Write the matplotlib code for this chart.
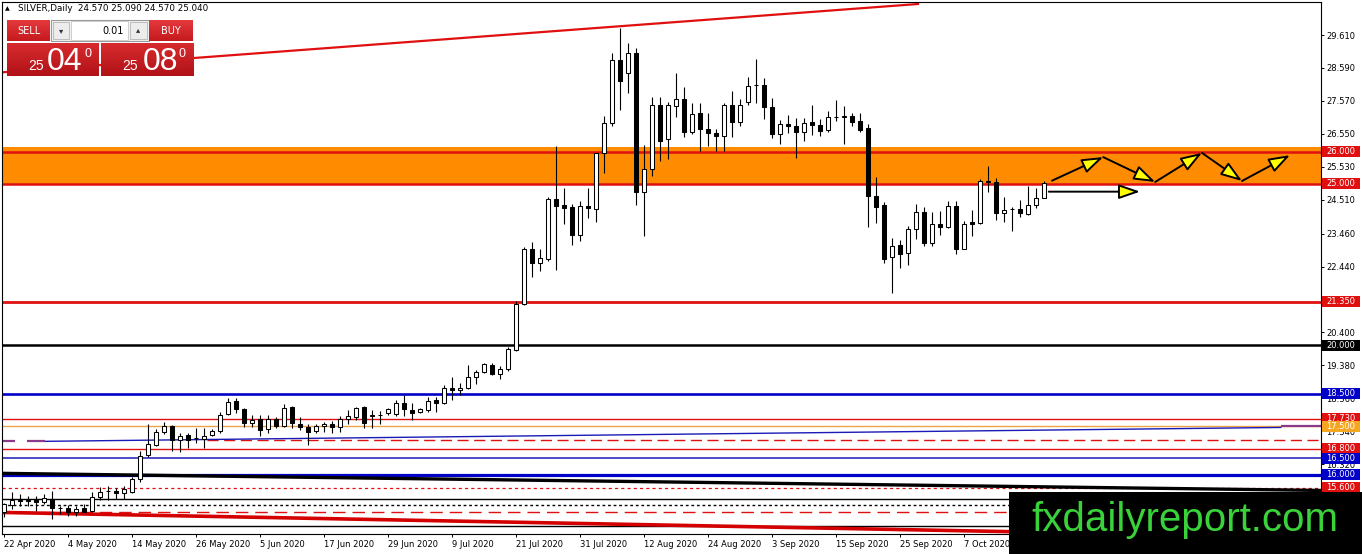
import numpy as np
import matplotlib
matplotlib.use("Agg")
import matplotlib.pyplot as plt
import matplotlib.transforms as mtransforms
from matplotlib.patches import Rectangle
from matplotlib.colors import LinearSegmentedColormap

plt.rcParams['font.family'] = ['DejaVu Sans']

W, H = 1362, 554

# daily bars, first one is 22 Apr 2020 (weekdays only)
opens = [14.85, 15.07, 15.20, 15.19, 15.22, 15.14, 15.26, 14.96, 14.96, 14.84,
         14.96, 14.86, 15.32, 15.48, 15.50, 15.42, 15.45, 15.86, 16.60, 16.93,
         17.33, 17.50, 17.08, 17.22, 17.12, 17.09, 17.23, 17.34, 17.87, 18.28,
         18.04, 17.61, 17.73, 17.40, 17.73, 17.50, 18.09, 17.58, 17.46, 17.36,
         17.49, 17.57, 17.46, 17.71, 17.79, 18.09, 17.80, 17.84, 17.91, 17.88,
         18.22, 18.01, 17.93, 18.01, 18.30, 18.23, 18.69, 18.62, 18.69, 19.03,
         19.17, 19.38, 19.13, 19.26, 19.86, 21.27, 22.97, 22.56, 22.69, 24.54,
         24.35, 24.27, 23.43, 24.32, 24.23, 25.97, 26.88, 28.84, 28.43, 29.04,
         24.74, 25.46, 27.45, 26.38, 27.42, 27.62, 26.62, 27.19, 26.70, 26.57,
         26.47, 27.43, 26.93, 27.53, 28.05, 28.07, 27.38, 26.54, 26.86, 26.80,
         26.60, 26.93, 26.83, 26.67, 27.06, 27.07, 27.11, 26.95, 26.73, 24.64,
         24.36, 22.74, 23.12, 22.87, 23.61, 24.12, 23.17, 23.77, 23.67, 24.33,
         23.00, 23.82, 23.79, 25.05, 25.05, 24.10, 24.22, 24.23, 24.08, 24.34,
         24.57]
highs = [15.12, 15.45, 15.40, 15.33, 15.34, 15.40, 15.50, 15.04, 15.07, 15.04,
         15.09, 15.45, 15.61, 15.65, 15.60, 15.65, 15.92, 16.73, 17.56, 17.40,
         17.63, 17.55, 17.30, 17.30, 17.45, 17.45, 17.40, 17.94, 18.36, 18.36,
         18.05, 17.86, 17.84, 17.84, 17.77, 18.18, 18.12, 17.77, 17.56, 17.58,
         17.64, 17.66, 17.82, 18.00, 18.10, 18.12, 18.00, 17.98, 18.06, 18.30,
         18.45, 18.21, 18.06, 18.39, 18.39, 18.76, 19.02, 18.83, 19.38, 19.25,
         19.46, 19.45, 19.37, 19.94, 21.38, 23.04, 23.20, 23.00, 24.60, 26.16,
         24.88, 24.38, 24.46, 24.87, 25.97, 27.11, 29.04, 29.82, 29.35, 29.20,
         26.21, 27.68, 27.68, 27.55, 28.44, 28.01, 27.50, 27.50, 27.19, 26.70,
         27.50, 27.89, 27.63, 28.32, 28.86, 28.27, 27.65, 26.98, 27.14, 27.03,
         27.03, 27.45, 27.00, 27.27, 27.60, 27.42, 27.21, 27.21, 26.86, 25.21,
         24.43, 23.33, 23.25, 23.71, 24.39, 24.30, 24.12, 24.15, 24.46, 24.46,
         23.84, 24.20, 25.15, 25.54, 25.18, 24.61, 24.30, 24.51, 24.92, 24.87,
         25.09]
lows = [14.68, 14.93, 15.03, 15.03, 14.88, 15.09, 14.62, 14.78, 14.72, 14.72,
        14.84, 14.83, 15.22, 15.22, 15.26, 15.25, 15.42, 15.76, 16.55, 16.88,
        17.27, 16.72, 16.70, 16.83, 16.99, 16.83, 17.18, 17.30, 17.84, 17.91,
        17.46, 17.46, 17.20, 17.28, 17.44, 17.46, 17.43, 17.39, 16.91, 17.28,
        17.31, 17.28, 17.33, 17.56, 17.68, 17.43, 17.43, 17.56, 17.85, 17.82,
        17.81, 17.70, 17.90, 17.93, 17.95, 18.20, 18.31, 18.45, 18.66, 18.79,
        19.14, 19.07, 18.95, 19.21, 19.83, 21.25, 22.13, 22.29, 22.60, 22.32,
        23.75, 23.10, 23.22, 23.93, 23.81, 25.34, 26.78, 27.29, 27.81, 24.36,
        23.38, 25.23, 25.70, 25.77, 27.07, 26.45, 26.55, 26.03, 26.18, 26.03,
        26.03, 26.45, 26.78, 27.45, 27.50, 27.00, 26.42, 26.24, 26.59, 25.80,
        26.34, 26.52, 26.49, 26.62, 26.96, 26.24, 26.80, 26.62, 23.67, 23.79,
        22.55, 21.63, 22.40, 22.50, 23.30, 23.07, 23.07, 23.43, 23.64, 22.84,
        22.97, 23.38, 23.75, 24.74, 23.87, 23.81, 23.53, 23.99, 24.04, 24.26,
        24.57]
closes = [15.08, 15.22, 15.19, 15.21, 15.14, 15.27, 14.96, 14.98, 14.83, 14.93,
          14.85, 15.32, 15.45, 15.50, 15.42, 15.55, 15.86, 16.58, 16.96, 17.32,
          17.50, 17.06, 17.18, 17.06, 17.14, 17.20, 17.35, 17.84, 18.25, 18.04,
          17.61, 17.68, 17.38, 17.73, 17.50, 18.07, 17.61, 17.46, 17.32, 17.50,
          17.58, 17.46, 17.71, 17.82, 18.07, 17.61, 17.84, 17.86, 18.02, 18.22,
          18.02, 17.92, 18.02, 18.28, 18.23, 18.69, 18.61, 18.69, 19.03, 19.17,
          19.41, 19.10, 19.28, 19.88, 21.27, 22.97, 22.56, 22.71, 24.54, 24.33,
          24.25, 23.43, 24.33, 24.25, 25.95, 26.88, 28.84, 28.20, 29.04, 24.74,
          25.46, 27.45, 26.34, 27.45, 27.62, 26.62, 27.16, 26.70, 26.57, 26.47,
          27.43, 26.93, 27.43, 28.04, 28.07, 27.38, 26.54, 26.85, 26.78, 26.60,
          26.88, 26.83, 26.65, 27.07, 27.08, 27.11, 26.93, 26.67, 24.64, 24.30,
          22.69, 23.07, 22.84, 23.61, 24.12, 23.17, 23.77, 23.67, 24.33, 23.00,
          23.77, 23.77, 25.08, 25.08, 24.10, 24.18, 24.23, 24.10, 24.34, 24.56,
          25.04]

date_ticks = [0, 8, 16, 24, 32, 40, 48, 56, 64, 72, 80, 88, 96, 104, 112, 120]
date_labels = ['22 Apr 2020', '4 May 2020', '14 May 2020', '26 May 2020', '5 Jun 2020',
               '17 Jun 2020', '29 Jun 2020', '9 Jul 2020', '21 Jul 2020', '31 Jul 2020',
               '12 Aug 2020', '24 Aug 2020', '3 Sep 2020', '15 Sep 2020', '25 Sep 2020',
               '7 Oct 2020']

price_ticks = [29.61, 28.59, 27.57, 26.55, 25.53, 24.51, 23.46, 22.44, 21.42,
               20.40, 19.38, 18.36, 17.34, 16.32, 15.30]

# horizontal levels with a price tag on the scale
levels = [26.0, 25.0, 21.35, 20.0, 18.5, 17.73, 17.5, 16.8, 16.5, 16.0, 15.6]
# extra untagged horizontal lines
plain_levels = [15.24, 15.05, 14.85, 14.42]
dash_level = 17.08
dash_level_start = 25.4

zone_bottom, zone_top = 24.97, 26.13

# sloped lines (bar index, price)
top_line_x, top_line_y = [-0.5, 114.25], [28.45, 30.57]
black_line_x, black_line_y = [-0.5, 164.6], [16.04, 15.51]
red_line_x, red_line_y = [-0.5, 164.6], [14.83, 14.05]
blue_line_x, blue_line_y = [5.1, 159.6], [17.03, 17.46]
purple_segments = [(-0.5, 1.4, 17.03), (2.9, 5.1, 17.03), (159.6, 164.6, 17.5)]

# projected path
zigzag_x = [131.0, 137.4, 143.9, 149.75, 154.75, 160.75]
zigzag_y = [25.10, 25.83, 25.06, 25.96, 25.09, 25.89]
flat_x = [130.6, 142.0]
flat_y = [24.76, 24.76]

# ---------------------------------------------------------------
fig = plt.figure(figsize=(W / 100, H / 100), dpi=100)
fig.patch.set_facecolor('white')
ax = fig.add_axes([2 / W, (H - 534) / H, 1319 / W, 532 / H])
ax.set_xlim(-0.25, 164.625)
ax.set_ylim(14.161, 30.632)
px_per_unit = 532 / (30.632 - 14.161)

red = '#e01010'
blue = '#0000c8'

# supply/demand zone
ax.axhspan(zone_bottom, zone_top, color='#ff8c00', lw=0, zorder=1)

level_colors = [red, red, red, 'black', blue, red, '#eba447', red, '#1a1ab8', blue, red]
level_widths = [1.8, 1.8, 2.0, 1.8, 1.9, 1.0, 1.0, 1.0, 1.1, 2.3, 0.9]
level_styles = ['-'] * 10 + [(0, (2.5, 2.5))]
for p, c, lw, ls in zip(levels, level_colors, level_widths, level_styles):
    ax.axhline(p, color=c, lw=lw, ls=ls, zorder=2)

ax.hlines(dash_level, dash_level_start, 164.625, color=red, lw=1.0, ls=(0, (8, 4)), zorder=2)
plain_colors = ['black', 'black', red, 'black']
plain_styles = ['-', (0, (2, 2)), (0, (9, 5)), '-']
for p, c, ls in zip(plain_levels, plain_colors, plain_styles):
    ax.axhline(p, color=c, lw=1.0, ls=ls, zorder=2)

ax.plot(top_line_x, top_line_y, color=red, lw=1.6, zorder=2)
ax.plot(black_line_x, black_line_y, color='black', lw=2.4, zorder=2)
ax.plot(red_line_x, red_line_y, color='#d40000', lw=2.6, zorder=2)
ax.plot(blue_line_x, blue_line_y, color='#1a1ab8', lw=1.0, zorder=2)
for x0, x1, p in purple_segments:
    ax.hlines(p, x0, x1, color='#8a3a8a', lw=1.6, zorder=2)

# candles
o, h, l, c = map(np.array, (opens, highs, lows, closes))
x = np.arange(len(o))
up = c >= o
ax.vlines(x, l, h, color='black', lw=0.8, zorder=3)
lo = np.minimum(o, c)
ht = np.maximum(np.abs(c - o), 0.012)
ax.bar(x[up], ht[up], bottom=lo[up], width=0.58, facecolor='white',
       edgecolor='black', lw=0.75, zorder=4)
ax.bar(x[~up], ht[~up], bottom=lo[~up], width=0.58, facecolor='black',
       edgecolor='black', lw=0.75, zorder=4)

# arrows
arrow_kw = dict(arrowstyle='-|>,head_length=1.3,head_width=0.45', mutation_scale=10,
                facecolor='#ffff00', edgecolor='black', lw=1.4, shrinkA=0, shrinkB=0)
for i in range(len(zigzag_x) - 1):
    ax.annotate('', xy=(zigzag_x[i + 1], zigzag_y[i + 1]), xytext=(zigzag_x[i], zigzag_y[i]),
                arrowprops=arrow_kw, zorder=6)
ax.annotate('', xy=(flat_x[1], flat_y[1]), xytext=(flat_x[0], flat_y[0]),
            arrowprops=arrow_kw, zorder=6)

# axes look
for s in ax.spines.values():
    s.set_color('black')
    s.set_linewidth(0.8)
ax.yaxis.tick_right()
ax.set_yticks(price_ticks)
ax.set_yticklabels([f'{v:.3f}' for v in price_ticks])
ax.set_xticks(date_ticks)
ax.set_xticklabels(date_labels, ha='left')
ax.tick_params(axis='y', length=2.5, pad=1.5, labelsize=6, width=0.7)
ax.tick_params(axis='x', length=2.5, pad=1.8, labelsize=6, width=0.7)

# price tags on the scale
tag_bg = [red, red, red, 'black', blue, red, '#f5a623', red, blue, blue, red]
trans = mtransforms.blended_transform_factory(fig.transFigure, ax.transData)
for p, bg in zip(levels, tag_bg):
    ax.add_patch(Rectangle((1322 / W, p - 5.5 / px_per_unit), 38 / W, 11 / px_per_unit,
                           transform=trans, fc=bg, ec='none', clip_on=False, zorder=7))
    ax.text(1326 / W, p, f'{p:.3f}', transform=trans, color='white', fontsize=6,
            va='center', ha='left', zorder=8, clip_on=False)


# ---------------------------------------------------------------
# overlays in pixel coordinates
def fig_rect(x0, y0, w, h, **kw):
    fig.add_artist(Rectangle((x0 / W, 1 - (y0 + h) / H), w / W, h / H,
                             transform=fig.transFigure, **kw))


def fig_text(x0, y0, s, **kw):
    fig.text(x0 / W, 1 - y0 / H, s, **kw)


def grad_box(x0, y0, w, h, top, bot):
    a = fig.add_axes([x0 / W, 1 - (y0 + h) / H, w / W, h / H], zorder=4)
    cmap = LinearSegmentedColormap.from_list('g', [top, bot])
    a.imshow(np.linspace(0, 1, 64)[:, None], aspect='auto', cmap=cmap, extent=(0, 1, 0, 1))
    a.set_axis_off()


fig_text(5, 8.5, '▲', fontsize=4.5, va='center', zorder=9)
fig_text(18, 8.5, 'SILVER,Daily  24.570 25.090 24.570 25.040', fontsize=6.3, va='center', zorder=9)

fig_rect(51, 20, 98, 21, fc='#f2f2f2', ec='#9a9a9a', lw=0.8, zorder=3)
fig_rect(71, 21, 57, 19, fc='white', ec='#c8c8c8', lw=0.6, zorder=3.5)
fig_rect(53, 22, 16, 17, fc='#ececec', ec='#b5b5b5', lw=0.6, zorder=3.5)
fig_rect(130, 22, 17, 17, fc='#ececec', ec='#b5b5b5', lw=0.6, zorder=3.5)
fig_text(61, 31, '▾', fontsize=6, ha='center', va='center', color='#333333', zorder=9)
fig_text(138.5, 30, '▴', fontsize=6, ha='center', va='center', color='#333333', zorder=9)
fig_text(124, 30.5, '0.01', fontsize=7, ha='right', va='center', zorder=9)

grad_box(7, 20, 43, 21, '#e4393d', '#c41a1e')
grad_box(149, 20, 44, 21, '#e4393d', '#c41a1e')
grad_box(7, 43, 92, 33, '#d82a2e', '#b01318')
grad_box(101, 43, 92, 33, '#d82a2e', '#b01318')
fig_text(28.5, 30.5, 'SELL', fontsize=7, color='white', ha='center', va='center', zorder=9)
fig_text(171, 30.5, 'BUY', fontsize=7, color='white', ha='center', va='center', zorder=9)

big = dict(color='white', ha='center', va='baseline', family='Liberation Sans', zorder=9)
fig_text(36, 70, '25', fontsize=10, **big)
fig_text(65, 70, '04', fontsize=23, **big)
fig_text(88, 57, '0', fontsize=9, **big)
fig_text(130, 70, '25', fontsize=10, **big)
fig_text(160, 70, '08', fontsize=23, **big)
fig_text(182, 57, '0', fontsize=9, **big)

# watermark
fig_rect(1009, 492, 353, 62, fc='black', ec='none', zorder=8)
fig_text(1185, 520, 'fxdailyreport.com', fontsize=29, color='#3ad23a',
         family='Liberation Sans', ha='center', va='center', zorder=9)

fig.savefig('out.png', dpi=100)
